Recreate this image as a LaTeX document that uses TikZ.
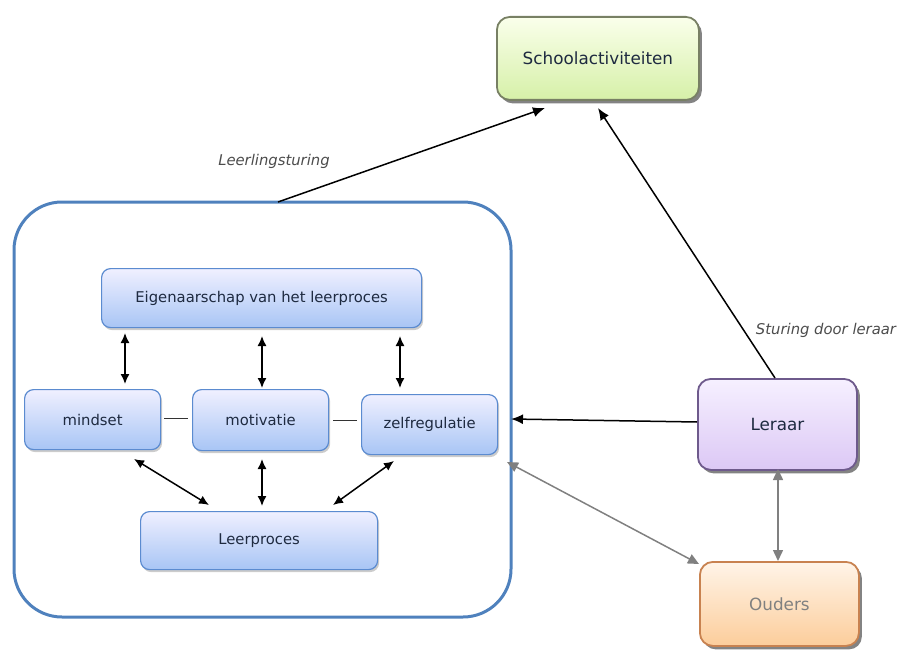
\documentclass[tikz,border=0pt]{standalone}
\usepackage{fontspec}
\setmainfont{DejaVu Sans}
\usetikzlibrary{shadows,arrows.meta}
\definecolor{txt}{HTML}{1E2A40}
\definecolor{bluebd}{HTML}{5B8BD0}
\definecolor{contbd}{HTML}{4F81BD}
\tikzset{
  x=1pt,y=-1pt,
  inner/.style={draw=bluebd,line width=1.2pt,rounded corners=9pt,top color=blue!6!white,bottom color={rgb,255:red,168;green,197;blue,245},
     drop shadow={shadow xshift=1.5pt,shadow yshift=-2.5pt,fill=black!40,opacity=.5},
     text=txt,font=\fontsize{14.8}{16}\selectfont,inner sep=0pt,anchor=north west},
  outerbox/.style={rounded corners=13pt,line width=1.8pt,inner sep=0pt,anchor=north west,text=txt,
     font=\fontsize{16.8}{18}\selectfont,
     drop shadow={shadow xshift=3pt,shadow yshift=-3.5pt,fill=black!75,opacity=.65}},
  dbl/.style={{Latex[length=10pt,width=9pt]}-{Latex[length=10pt,width=9pt]},line width=1.5pt,black},
  sgl/.style={-{Latex[length=12pt,width=10pt]},line width=1.5pt,black},
  gdbl/.style={{Triangle[length=11pt,width=10pt]}-{Triangle[length=11pt,width=10pt]},line width=1.5pt,black!50},
  lbl/.style={font=\fontsize{14.8}{16}\selectfont\itshape,text=black!70}
}
\begin{document}
\begin{tikzpicture}
\useasboundingbox (0,0) rectangle (900,650);
% container
\draw[contbd,line width=3pt,rounded corners=48pt] (14,202) rectangle (511,617);
\coordinate (ctop) at (278,202);
\coordinate (cright) at (511,419);
\coordinate (cdown) at (507,462);
% top nodes
\node[outerbox,draw={rgb,255:red,120;green,128;blue,100},top color={rgb,255:red,250;green,255;blue,235},bottom color={rgb,255:red,214;green,240;blue,168},
  minimum width=202pt,minimum height=83pt] (school) at (496,16) {Schoolactiviteiten};
\node[outerbox,draw={rgb,255:red,110;green,90;blue,140},top color={rgb,255:red,246;green,240;blue,255},bottom color={rgb,255:red,220;green,200;blue,245},
  minimum width=159pt,minimum height=91pt] (leraar) at (697,378) {Leraar};
\node[outerbox,draw={rgb,255:red,200;green,130;blue,80},top color={rgb,255:red,255;green,244;blue,232},bottom color={rgb,255:red,252;green,205;blue,155},
  text=black!50,minimum width=159pt,minimum height=84pt] (ouders) at (699,561) {Ouders};
% inner nodes
\node[inner,minimum width=320pt,minimum height=59pt] (eig) at (101,268) {Eigenaarschap van het leerproces};
\node[inner,minimum width=136pt,minimum height=60pt] (mind) at (24,389) {mindset};
\node[inner,minimum width=136pt,minimum height=61pt] (mot) at (192,389) {motivatie};
\node[inner,minimum width=136pt,minimum height=60pt] (zelf) at (361,394) {zelfregulatie};
\node[inner,minimum width=237pt,minimum height=58pt] (leer) at (140,511) {Leerproces};
% labels
\node[lbl] (l1) at (274,161) {Leerlingsturing};
\node[lbl] (l2) at (826,330) {Sturing door leraar};
% arrows
\draw[sgl] (ctop) -- (545,108);
\draw[sgl] (leraar.north -| 775,0) -- (598,108);
\draw[sgl] (leraar.west |- 0,422) -- (cright);
\draw[gdbl] (cdown) -- (ouders.north west |- 0,564);
\draw[gdbl] (778,469) -- (778,561);
\draw[dbl] (125,333) -- (125,384);
\draw[dbl] (262,336) -- (262,388);
\draw[dbl] (400,336) -- (400,388);
\draw[dbl] (134,459) -- (209,505);
\draw[dbl] (262,459) -- (262,506);
\draw[dbl] (394,461) -- (333,505);
\draw[line width=1pt,black!80] (164,418) -- (188,418);
\draw[line width=1pt,black!80] (333,420) -- (357,420);
\end{tikzpicture}
\end{document}
